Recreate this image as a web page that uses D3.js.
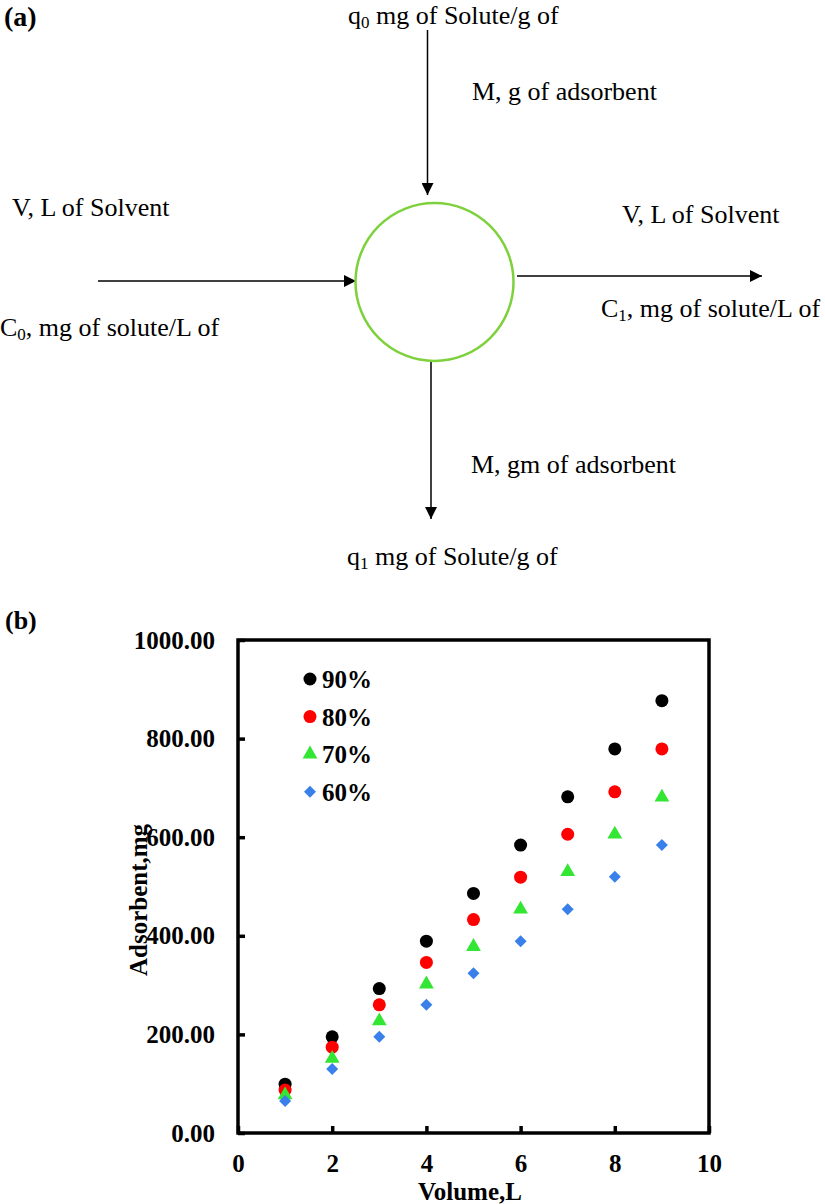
<!DOCTYPE html>
<html>
<head>
<meta charset="utf-8">
<script src="https://cdn.jsdelivr.net/npm/d3@7"></script>
<style>
  body { margin: 0; background: #fff; }
  text { font-family: "Liberation Serif", "Times New Roman", serif; }
</style>
</head>
<body>
<svg id="fig" width="825" height="1204"></svg>
<script>
// ----- data for panel (b) -----
const volumes = [1, 2, 3, 4, 5, 6, 7, 8, 9];
const series90 = [99, 195, 293, 389, 486, 584, 682, 779, 877];
const series80 = [87, 174, 260, 346, 433, 519, 606, 692, 779];
const series70 = [77, 151, 227, 302, 378, 454, 530, 606, 681];
const series60 = [65, 130, 195, 260, 324, 389, 454, 520, 584];
const seriesNames = ["90%", "80%", "70%", "60%"];
const xTicks = [0, 2, 4, 6, 8, 10];
const yTicks = [0, 200, 400, 600, 800, 1000];

const serif = "'Liberation Serif', 'Times New Roman', serif";
const svg = d3.select("svg#fig");
svg.append("rect").attr("width", 825).attr("height", 1204).attr("fill", "#fff");

// ----- panel (a): mass balance sketch -----
const defs = svg.append("defs");
defs.append("marker")
  .attr("id", "head")
  .attr("markerUnits", "userSpaceOnUse")
  .attr("viewBox", "0 0 12 12")
  .attr("refX", 12).attr("refY", 6)
  .attr("markerWidth", 12).attr("markerHeight", 12)
  .attr("orient", "auto")
  .append("path")
  .attr("d", "M0,0 L12,6 L0,12 Z")
  .attr("fill", "#000");

const sketch = svg.append("g");

sketch.append("text").attr("x", 4).attr("y", 26)
  .style("font-family", serif)
  .style("font-size", "28px").style("font-weight", "bold").text("(a)");

const arrows = [
  [427.5, 30, 427.5, 195],
  [98, 281, 356, 281],
  [517, 276, 762, 276],
  [431, 362, 431, 519]
];
sketch.selectAll("line.arrow")
  .data(arrows)
  .join("line")
  .attr("class", "arrow")
  .attr("x1", d => d[0]).attr("y1", d => d[1])
  .attr("x2", d => d[2]).attr("y2", d => d[3])
  .attr("stroke", "#000").attr("stroke-width", 1.5)
  .attr("marker-end", "url(#head)");

sketch.append("circle")
  .attr("cx", 434.5).attr("cy", 282).attr("r", 79)
  .attr("fill", "none").attr("stroke", "#7dd13c").attr("stroke-width", 2.5);

// label helper: main text with optional subscript after the first character
function label(x, y, first, sub, rest) {
  const t = sketch.append("text").attr("x", x).attr("y", y)
    .style("font-family", serif).style("font-size", "26px");
  t.append("tspan").text(first);
  if (sub) {
    t.append("tspan").attr("dy", 4).style("font-size", "17px").text(sub);
    t.append("tspan").attr("dy", -4).text(rest);
  } else {
    t.append("tspan").text(rest);
  }
}
label(348, 24, "q", "0", " mg of Solute/g of");
label(472, 100, "M, g of adsorbent", null, "");
label(12, 216, "V, L of Solvent", null, "");
label(0, 336, "C", "0", ", mg of solute/L of");
label(622, 223, "V, L of Solvent", null, "");
label(601, 317, "C", "1", ", mg of solute/L of");
label(471, 473, "M, gm of adsorbent", null, "");
label(347, 565, "q", "1", " mg of Solute/g of");

// ----- panel (b): scatter chart -----
svg.append("text").attr("x", 5).attr("y", 629)
  .style("font-family", serif)
  .style("font-size", "26px").style("font-weight", "bold").text("(b)");

const x = d3.scaleLinear().domain([0, 10]).range([238, 709]);
const y = d3.scaleLinear().domain([0, 1000]).range([1133, 640]);

const xAxis = svg.append("g")
  .attr("transform", `translate(0,${y(0)})`)
  .call(d3.axisBottom(x).tickValues(xTicks).tickSize(-7).tickPadding(21).tickFormat(d3.format("d")));
const yAxis = svg.append("g")
  .attr("transform", `translate(${x(0)},0)`)
  .call(d3.axisLeft(y).tickValues(yTicks).tickSize(-7).tickPadding(23).tickFormat(d3.format(".2f")));

[xAxis, yAxis].forEach(a => {
  a.select(".domain").remove();
  a.selectAll(".tick line").attr("stroke", "#000").attr("stroke-width", 3.5);
  a.selectAll(".tick text")
    .attr("fill", "#000")
    .style("font-family", serif)
    .style("font-size", "25px")
    .style("font-weight", "bold");
});

svg.append("rect")
  .attr("x", x(0)).attr("y", y(1000))
  .attr("width", x(10) - x(0)).attr("height", y(0) - y(1000))
  .attr("fill", "none").attr("stroke", "#000").attr("stroke-width", 3.5);

svg.append("text")
  .attr("transform", `translate(147,900) rotate(-90)`)
  .attr("text-anchor", "middle")
  .style("font-family", serif)
  .style("font-size", "25px").style("font-weight", "bold")
  .text("Adsorbent,mg");

svg.append("text")
  .attr("x", 470).attr("y", 1200)
  .attr("text-anchor", "middle")
  .style("font-family", serif)
  .style("font-size", "25px").style("font-weight", "bold")
  .text("Volume,L");

const styles = [
  { color: "#000000", symbol: d3.symbolCircle, size: 133, rot: 0 },
  { color: "#ff0000", symbol: d3.symbolCircle, size: 133, rot: 0 },
  { color: "#33e633", symbol: d3.symbolTriangle, size: 95, rot: 0 },
  { color: "#3a80ea", symbol: d3.symbolSquare, size: 72, rot: 45 }
];
const allSeries = [series90, series80, series70, series60];

const plot = svg.append("g");
allSeries.forEach((vals, i) => {
  const st = styles[i];
  plot.selectAll(null)
    .data(volumes.map((v, j) => ({ v: v, a: vals[j] })))
    .join("path")
    .attr("d", d3.symbol().type(st.symbol).size(st.size))
    .attr("transform", d => `translate(${x(d.v)},${y(d.a)}) rotate(${st.rot})`)
    .attr("fill", st.color);
});

// legend
const legend = svg.append("g");
const legendY = d3.scalePoint().domain(seriesNames).range([679, 791.7]);
seriesNames.forEach((name, i) => {
  const st = styles[i];
  legend.append("path")
    .attr("d", d3.symbol().type(st.symbol).size(st.size))
    .attr("transform", `translate(310,${legendY(name)}) rotate(${st.rot})`)
    .attr("fill", st.color);
  legend.append("text")
    .attr("x", 322).attr("y", legendY(name) + 9)
    .style("font-family", serif)
    .style("font-size", "25px").style("font-weight", "bold")
    .text(name);
});
</script>
</body>
</html>
